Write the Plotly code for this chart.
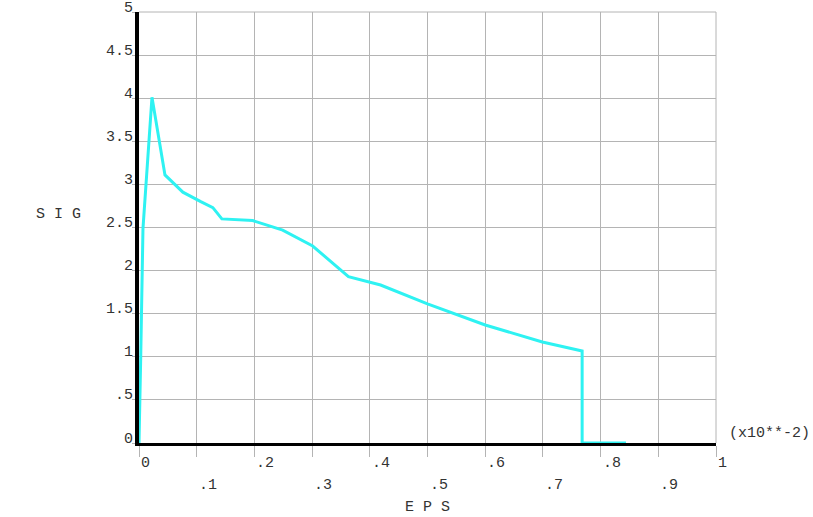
import plotly.graph_objects as go

# Data (EPS in units of 1e-2, SIG)
eps = [0.0, 0.001, 0.003, 0.0069, 0.0225, 0.045, 0.076, 0.107, 0.128, 0.1436,
       0.197, 0.249, 0.301, 0.363, 0.4187, 0.500, 0.600, 0.699, 0.768, 0.768, 0.844]
sig = [0.0, 0.3, 1.0, 2.49, 4.01, 3.11, 2.91, 2.80, 2.73, 2.60,
       2.58, 2.47, 2.285, 1.93, 1.833, 1.613, 1.369, 1.172, 1.067, 0.0, 0.0]

x_ticks = [0, 0.1, 0.2, 0.3, 0.4, 0.5, 0.6, 0.7, 0.8, 0.9, 1.0]
x_tick_labels = ["0", ".1", ".2", ".3", ".4", ".5", ".6", ".7", ".8", ".9", "1"]
y_ticks = [0, 0.5, 1, 1.5, 2, 2.5, 3, 3.5, 4, 4.5, 5]
y_tick_labels = ["0", ".5", "1", "1.5", "2", "2.5", "3", "3.5", "4", "4.5", "5"]

FONT = "Liberation Mono"
TXT = "#333333"
GRID = "#b4b4b4"

fig = go.Figure()
fig.add_trace(go.Scatter(x=eps, y=sig, mode="lines", cliponaxis=False,
                         line=dict(color="#2ef2f2", width=3), showlegend=False))

annotations = []
for i, (t, lab) in enumerate(zip(x_ticks, x_tick_labels)):
    annotations.append(dict(x=t, y=0, xref="x", yref="paper", text=lab,
                            showarrow=False, xanchor="left", yanchor="middle",
                            yshift=-20 if i % 2 == 0 else -42, xshift=0,
                            font=dict(family=FONT, size=15, color=TXT)))
for t, lab in zip(y_ticks, y_tick_labels):
    annotations.append(dict(x=0, y=t, xref="paper", yref="y", text=lab,
                            showarrow=False, xanchor="right", yanchor="middle",
                            xshift=-4, yshift=4,
                            font=dict(family=FONT, size=15, color=TXT)))
annotations.append(dict(x=1, y=0, xref="paper", yref="paper", text="(x10**-2)",
                        showarrow=False, xanchor="left", yanchor="middle",
                        xshift=11, yshift=10,
                        font=dict(family=FONT, size=15, color=TXT)))
annotations.append(dict(x=0.5, y=0, xref="paper", yref="paper", text="E P S",
                        showarrow=False, xanchor="center", yanchor="middle",
                        yshift=-64, xshift=0,
                        font=dict(family=FONT, size=15, color=TXT)))
annotations.append(dict(x=0, y=0.5, xref="paper", yref="paper", text="S I G",
                        showarrow=False, xanchor="center", yanchor="middle",
                        xshift=-81, yshift=13,
                        font=dict(family=FONT, size=15, color=TXT)))

shapes = [
    dict(type="line", xref="paper", yref="paper", x0=0, x1=1, y0=1, y1=1,
         line=dict(color=GRID, width=1)),
    dict(type="line", xref="paper", yref="paper", x0=1, x1=1, y0=0, y1=1,
         line=dict(color=GRID, width=1)),
]

fig.update_layout(
    width=813, height=517,
    margin=dict(l=139, r=97, t=12, b=74),
    paper_bgcolor="white", plot_bgcolor="white",
    xaxis=dict(range=[0, 1], tickvals=x_ticks, showticklabels=False,
               showgrid=True, gridcolor=GRID, gridwidth=1,
               ticks="outside", ticklen=11, tickcolor=GRID, tickwidth=1,
               zeroline=False, showline=True, linecolor="black", linewidth=3,
               layer="below traces", fixedrange=True),
    yaxis=dict(range=[0, 5], tickvals=y_ticks, showticklabels=False,
               showgrid=True, gridcolor=GRID, gridwidth=1,
               ticks="outside", ticklen=3, tickcolor=GRID, tickwidth=1,
               zeroline=False, showline=True, linecolor="black", linewidth=4,
               layer="below traces", fixedrange=True),
    annotations=annotations,
    shapes=shapes,
)

# remove the default 8px page margin so the figure starts at the window's corner
fig.write_html("out.html", config={"displayModeBar": False},
               post_script="document.body.style.margin='0';document.body.style.overflow='hidden';")
